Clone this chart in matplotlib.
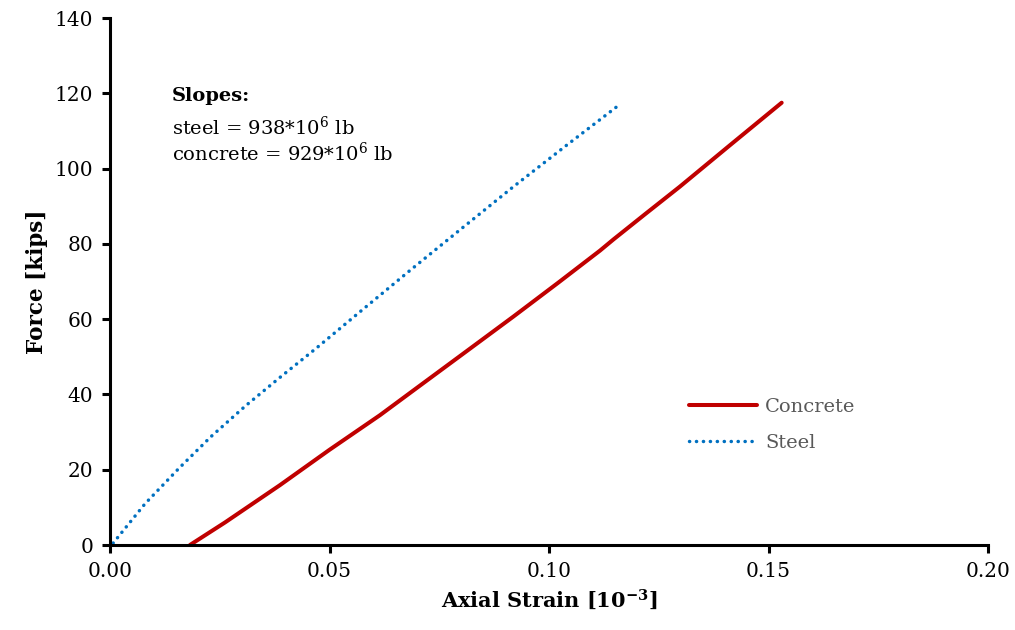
import matplotlib
matplotlib.use("Agg")
import matplotlib.pyplot as plt

plt.rcParams["font.family"] = ["DejaVu Serif"]
plt.rcParams["mathtext.fontset"] = "dejavuserif"

# Load-strain readings (strain in 1e-3, force in kips)
concrete_strain = [0.0182, 0.0262, 0.0387, 0.0500, 0.0615, 0.0695, 0.0810, 0.0919,
                   0.1020, 0.1116, 0.1147, 0.1220, 0.1298, 0.1410, 0.1530]
concrete_force = [0.0, 6.0, 15.9, 25.3, 34.5, 41.4, 51.3, 60.7,
                  69.6, 78.2, 81.2, 88.0, 95.2, 106.0, 117.5]

steel_strain = [0.0007, 0.0080, 0.0158, 0.0230, 0.0309, 0.0390, 0.0469, 0.0575,
                0.0686, 0.0800, 0.0919, 0.1040, 0.1163]
steel_force = [0.5, 11.0, 20.5, 28.8, 37.0, 44.8, 52.2, 62.5,
               73.2, 84.0, 95.2, 106.2, 117.2]

x_ticks = [0.00, 0.05, 0.10, 0.15, 0.20]
y_ticks = [0, 20, 40, 60, 80, 100, 120, 140]

fig = plt.figure(figsize=(10.15, 6.30), dpi=100)
ax = fig.add_axes([0.1084, 0.1349, 0.8650, 0.8365])

ax.plot(concrete_strain, concrete_force, color="#C00000", lw=2.9,
        solid_capstyle="round", label="Concrete")
ax.plot(steel_strain, steel_force, color="#0070C0", lw=2.5,
        linestyle=(0, (0.05, 1.95)), dash_capstyle="round", label="Steel")

ax.set_xlim(0, 0.20)
ax.set_ylim(0, 140)
ax.set_xticks(x_ticks)
ax.set_xticklabels([f"{v:.2f}" for v in x_ticks])
ax.set_yticks(y_ticks)
ax.set_yticklabels([str(v) for v in y_ticks])

for side in ("right", "top"):
    ax.spines[side].set_visible(False)
for side in ("left", "bottom"):
    ax.spines[side].set_linewidth(2.2)
ax.tick_params(axis="both", direction="out", length=6, width=2.2,
               labelsize=14.5, colors="black", pad=6)
ax.tick_params(top=False, right=False)

ax.set_xlabel(r"Axial Strain [10$^{\mathbf{-3}}$]", fontsize=15,
              fontweight="bold", labelpad=5)
ax.set_ylabel("Force [kips]", fontsize=15.5, fontweight="bold", labelpad=5)

ax.text(0.0706, 0.852, "Slopes:", transform=ax.transAxes, fontsize=14,
        fontweight="bold", va="center", ha="left")
ax.text(0.0706, 0.793, r"steel = 938*10$^{6}$ lb", transform=ax.transAxes,
        fontsize=14, va="center", ha="left")
ax.text(0.0706, 0.744, r"concrete = 929*10$^{6}$ lb", transform=ax.transAxes,
        fontsize=14, va="center", ha="left")

leg = ax.legend(loc="center left", bbox_to_anchor=(0.64, 0.228), frameon=False,
                fontsize=14, handlelength=3.5, handletextpad=0.4,
                labelspacing=0.95)
for t in leg.get_texts():
    t.set_color("#595959")

fig.savefig("out.png", dpi=100, facecolor="white")
